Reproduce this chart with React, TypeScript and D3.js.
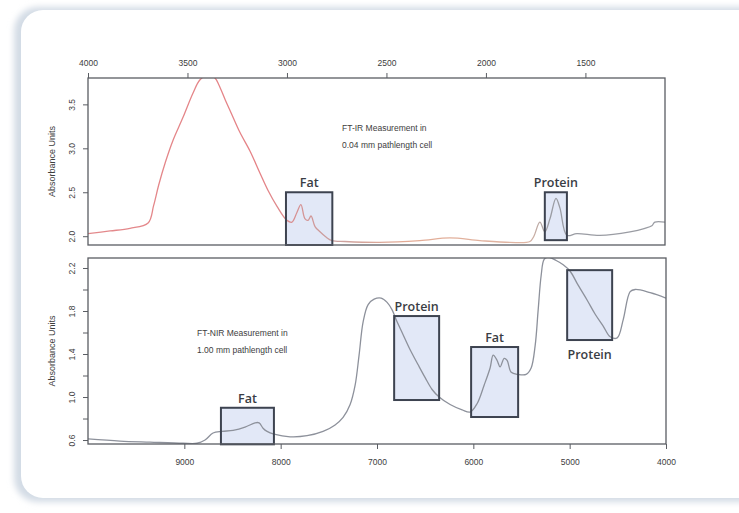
import { useEffect, useRef } from "react";
import * as d3 from "d3";

// FT-IR (mid infrared) trace
const mirWavenumber = [4000, 3889, 3789, 3698, 3670, 3645, 3610, 3573, 3523, 3472, 3437, 3400, 3362, 3342, 3310, 3280, 3236, 3186, 3136, 3095, 3050, 3000, 2975, 2950, 2930, 2910, 2894, 2879, 2859, 2834, 2804, 2774, 2709, 2533, 2332, 2181, 2030, 1879, 1779, 1759, 1729, 1704, 1678, 1648, 1628, 1593, 1543, 1427, 1276, 1201, 1166, 1151, 1100];
const mirAbsorbance = [2.03, 2.06, 2.09, 2.15, 2.35, 2.58, 2.85, 3.09, 3.35, 3.63, 3.78, 3.83, 3.8, 3.72, 3.55, 3.4, 3.18, 2.97, 2.72, 2.52, 2.34, 2.18, 2.16, 2.27, 2.36, 2.2, 2.18, 2.23, 2.11, 2.05, 1.99, 1.95, 1.94, 1.93, 1.95, 1.98, 1.95, 1.93, 1.94, 2.0, 2.16, 2.05, 2.2, 2.43, 2.32, 2.01, 2.03, 2.01, 2.05, 2.09, 2.12, 2.16, 2.16];

// FT-NIR (near infrared) trace
const nirWavenumber = [10000, 9668, 9356, 9014, 8868, 8785, 8702, 8609, 8494, 8370, 8266, 8224, 8183, 8141, 8069, 7902, 7726, 7560, 7435, 7352, 7279, 7227, 7186, 7144, 7092, 7030, 6957, 6895, 6843, 6802, 6729, 6656, 6573, 6500, 6428, 6355, 6241, 6116, 6033, 5960, 5888, 5826, 5794, 5753, 5722, 5680, 5649, 5607, 5535, 5452, 5400, 5358, 5327, 5296, 5265, 5223, 5140, 5067, 4995, 4912, 4818, 4735, 4652, 4579, 4507, 4444, 4372, 4320, 4164, 4000];
const nirAbsorbance = [0.61, 0.59, 0.58, 0.57, 0.57, 0.6, 0.665, 0.68, 0.69, 0.72, 0.76, 0.76, 0.71, 0.68, 0.655, 0.63, 0.64, 0.68, 0.74, 0.81, 0.93, 1.11, 1.39, 1.7, 1.86, 1.91, 1.92, 1.88, 1.81, 1.72, 1.58, 1.44, 1.3, 1.18, 1.07, 1.0, 0.93, 0.88, 0.86, 0.94, 1.11, 1.27, 1.39, 1.34, 1.28, 1.36, 1.34, 1.23, 1.21, 1.21, 1.27, 1.48, 1.81, 2.13, 2.28, 2.3, 2.27, 2.23, 2.17, 2.04, 1.9, 1.77, 1.66, 1.56, 1.55, 1.72, 1.98, 2.0, 1.97, 1.92];

const mirTicksX = [4000, 3500, 3000, 2500, 2000, 1500];
const mirTicksY = [2.0, 2.5, 3.0, 3.5];
const nirTicksX = [9000, 8000, 7000, 6000, 5000, 4000];
const nirTicksY = [0.6, 0.8, 1.0, 1.2, 1.4, 1.6, 1.8, 2.0, 2.2];
const nirTickLabels = ["0.6", "", "1.0", "", "1.4", "", "1.8", "", "2.2"];

// highlighted regions: [label, wavenumber from, wavenumber to, low, high, label side]
const mirRegions = [
  ["Fat", 3005, 2772, 1.9, 2.5, "above"],
  ["Protein", 1704, 1593, 1.955, 2.5, "above"],
];
const nirRegions = [
  ["Fat", 8620, 8070, 0.56, 0.9, "above"],
  ["Protein", 6822, 6355, 0.972, 1.753, "above"],
  ["Fat", 6023, 5535, 0.814, 1.465, "above"],
  ["Protein", 5026, 4559, 1.53, 2.18, "below"],
];

const mirNote = ["FT-IR Measurement in", "0.04 mm pathlength cell"];
const nirNote = ["FT-NIR Measurement in", "1.00 mm pathlength cell"];

const W = 739;
const H = 513;

const App = () => {
  const svgRef = useRef(null);

  useEffect(() => {
    const svg = d3.select(svgRef.current);
    svg.selectAll("*").remove();

    const defs = svg.append("defs");
    defs
      .append("filter")
      .attr("id", "cardShadow")
      .attr("x", "-10%")
      .attr("y", "-10%")
      .attr("width", "120%")
      .attr("height", "120%")
      .append("feGaussianBlur")
      .attr("stdDeviation", 3);

    // card
    svg
      .append("rect")
      .attr("x", 14)
      .attr("y", 7)
      .attr("width", 780)
      .attr("height", 495)
      .attr("rx", 24)
      .attr("fill", "#d3dbe5")
      .attr("filter", "url(#cardShadow)");
    svg
      .append("rect")
      .attr("x", 21)
      .attr("y", 10)
      .attr("width", 780)
      .attr("height", 488)
      .attr("rx", 22)
      .attr("fill", "#ffffff");

    const tickFont = "Liberation Sans, Arial, sans-serif";
    const labelFont = "Open Sans, Noto Sans, sans-serif";

    const panel = (cfg) => {
      const { left, right, top, bottom, xDomain, yDomain, id } = cfg;
      const x = d3.scaleLinear().domain(xDomain).range([left, right]);
      const y = d3.scaleLinear().domain(yDomain).range([bottom, top]);

      defs
        .append("clipPath")
        .attr("id", id)
        .append("rect")
        .attr("x", left)
        .attr("y", top)
        .attr("width", right - left)
        .attr("height", bottom - top);

      const g = svg.append("g");

      // region fills
      g.append("g")
        .selectAll("rect")
        .data(cfg.regions)
        .enter()
        .append("rect")
        .attr("x", (d) => x(d[1]))
        .attr("width", (d) => x(d[2]) - x(d[1]))
        .attr("y", (d) => y(d[4]))
        .attr("height", (d) => y(d[3]) - y(d[4]))
        .attr("fill", "#dfe5f6")
        .attr("fill-opacity", 0.9);

      // spectrum
      const line = d3
        .line()
        .x((d) => x(d[0]))
        .y((d) => y(d[1]))
        .curve(d3.curveCatmullRom.alpha(0.5));
      g.append("path")
        .datum(d3.zip(cfg.wn, cfg.ab))
        .attr("clip-path", `url(#${id})`)
        .attr("d", line)
        .attr("fill", "none")
        .attr("stroke", cfg.stroke)
        .attr("stroke-width", 1.3)
        .attr("stroke-linejoin", "round");

      // region outlines
      g.append("g")
        .selectAll("rect")
        .data(cfg.regions)
        .enter()
        .append("rect")
        .attr("x", (d) => x(d[1]))
        .attr("width", (d) => x(d[2]) - x(d[1]))
        .attr("y", (d) => y(d[4]))
        .attr("height", (d) => y(d[3]) - y(d[4]))
        .attr("fill", "none")
        .attr("stroke", "#3d4350")
        .attr("stroke-width", 2);

      g.append("g")
        .selectAll("text")
        .data(cfg.regions)
        .enter()
        .append("text")
        .attr("x", (d) => (x(d[1]) + x(d[2])) / 2)
        .attr("y", (d) => (d[5] === "above" ? y(d[4]) - 5 : y(d[3]) + 19))
        .attr("text-anchor", "middle")
        .attr("font-family", labelFont)
        .attr("font-weight", 600)
        .attr("font-size", 12.5)
        .attr("fill", "#3a3d44")
        .text((d) => d[0]);

      // frame
      g.append("rect")
        .attr("x", left)
        .attr("y", top)
        .attr("width", right - left)
        .attr("height", bottom - top)
        .attr("fill", "none")
        .attr("stroke", "#5a5d63")
        .attr("stroke-width", 1.3);

      // x axis
      const xAxis = cfg.xTop
        ? d3.axisTop(x).tickPadding(7)
        : d3.axisBottom(x).tickPadding(10);
      const xg = g
        .append("g")
        .attr("transform", `translate(0,${cfg.xTop ? top : bottom})`)
        .call(xAxis.tickValues(cfg.xTicks).tickSize(5).tickFormat(d3.format("d")));
      xg.select(".domain").remove();

      // y axis
      const yg = g
        .append("g")
        .attr("transform", `translate(${left},0)`)
        .call(
          d3
            .axisLeft(y)
            .tickValues(cfg.yTicks)
            .tickSize(5)
            .tickFormat((d, i) => cfg.yLabels[i])
        );
      yg.select(".domain").remove();
      yg.selectAll("text")
        .attr("transform", "rotate(-90)")
        .attr("x", 0)
        .attr("y", -13)
        .attr("dy", "0")
        .attr("text-anchor", "middle");

      [xg, yg].forEach((a) => {
        a.selectAll("line").attr("stroke", "#5a5d63");
        a.selectAll("text")
          .attr("font-family", tickFont)
          .attr("font-size", 8.5)
          .attr("fill", "#3d3d3d");
      });

      g.append("text")
        .attr("transform", `translate(55,${(top + bottom) / 2}) rotate(-90)`)
        .attr("text-anchor", "middle")
        .attr("font-family", tickFont)
        .attr("font-size", 9)
        .attr("fill", "#3d3d3d")
        .text("Absorbance Units");

      g.append("g")
        .selectAll("text")
        .data(cfg.note)
        .enter()
        .append("text")
        .attr("x", cfg.noteX)
        .attr("y", (d, i) => cfg.noteY + i * 17)
        .attr("font-family", tickFont)
        .attr("font-size", 8.5)
        .attr("fill", "#3d3d3d")
        .text((d) => d);

      return { x, y };
    };

    // top panel colours fade from red into grey along the wavenumber axis
    const topScale = panel({
      id: "clipMir",
      left: 88,
      right: 665,
      top: 78,
      bottom: 245,
      xDomain: [4000, 1100],
      yDomain: [1.9, 3.8],
      wn: mirWavenumber,
      ab: mirAbsorbance,
      stroke: "url(#mirGrad)",
      regions: mirRegions,
      xTop: true,
      xTicks: mirTicksX,
      yTicks: mirTicksY,
      yLabels: mirTicksY.map((d) => d3.format(".1f")(d)),
      note: mirNote,
      noteX: 342,
      noteY: 131,
    });

    const grad = defs
      .append("linearGradient")
      .attr("id", "mirGrad")
      .attr("gradientUnits", "userSpaceOnUse")
      .attr("x1", topScale.x(4000))
      .attr("x2", topScale.x(1100))
      .attr("y1", 0)
      .attr("y2", 0);
    [
      [0, "#e38a8c"],
      [0.3, "#e58286"],
      [0.42, "#c9a0a0"],
      [0.55, "#e3ab95"],
      [0.76, "#dfb6a4"],
      [0.8, "#9a9ca3"],
      [1, "#9a9ca3"],
    ].forEach(([o, c]) => grad.append("stop").attr("offset", o).attr("stop-color", c));

    panel({
      id: "clipNir",
      left: 88,
      right: 666,
      top: 258,
      bottom: 444,
      xDomain: [10000, 4000],
      yDomain: [0.563, 2.293],
      wn: nirWavenumber,
      ab: nirAbsorbance,
      stroke: "#8d919b",
      regions: nirRegions,
      xTop: false,
      xTicks: nirTicksX,
      yTicks: nirTicksY,
      yLabels: nirTickLabels,
      note: nirNote,
      noteX: 197,
      noteY: 336,
    });
  }, []);

  return (
    <svg
      ref={svgRef}
      width={W}
      height={H}
      style={{ position: "absolute", left: 0, top: 0, background: "#ffffff" }}
    />
  );
};

export default App;
